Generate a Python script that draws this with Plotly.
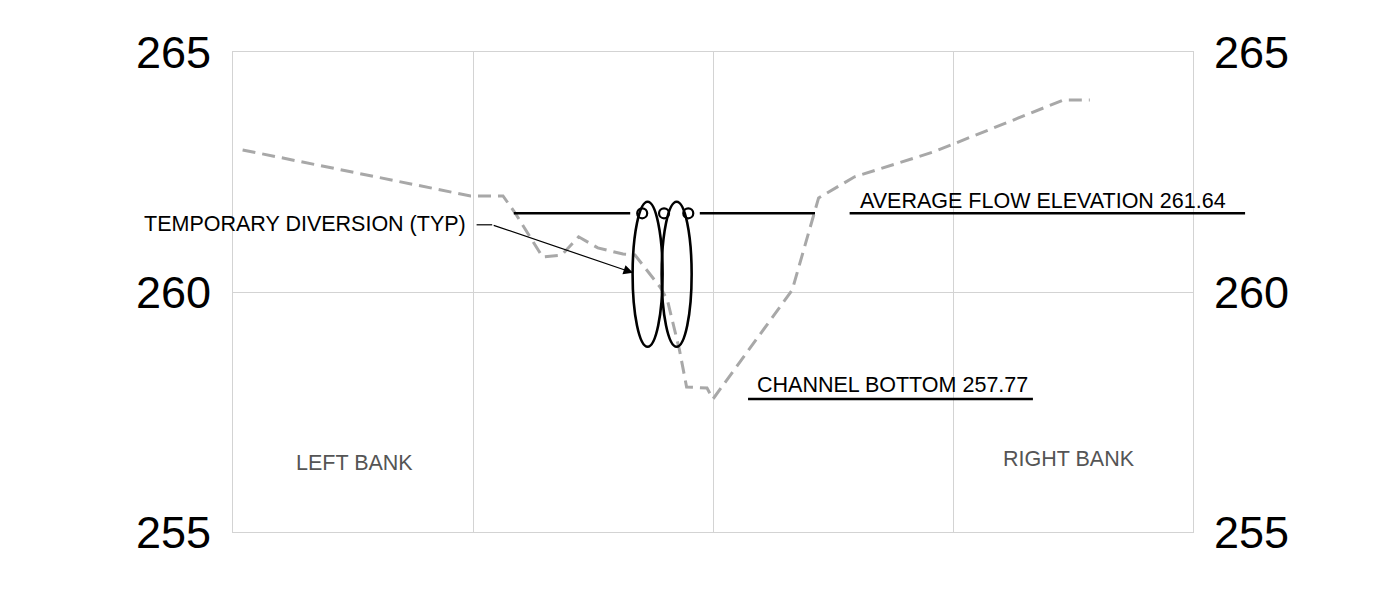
import plotly.graph_objects as go

# cross-section profile (station, elevation)
profile_x = [0.4, 9.9, 11.25, 11.75, 12.9, 13.7, 14.4, 15.2, 16.25, 16.75, 17.8, 18.1,
             18.6, 18.9, 19.75, 20.0, 23.3, 24.4, 25.9, 29.2, 34.6, 35.7]
profile_y = [262.96, 262.0, 262.0, 261.65, 260.73, 260.77, 261.15, 260.92, 260.79, 260.77,
             260.1, 259.83, 258.8, 258.02, 258.0, 257.77, 260.04, 261.96, 262.4, 262.92,
             264.0, 264.0]

flow_elev = 261.64
channel_bottom = 257.77

# water line, broken where the diversion pipes sit
flow_x = [11.7, 16.55, None, 19.45, 24.25]
flow_label_x = [25.63, 42.17]
bottom_label_x = [21.46, 33.33]

# temporary diversion pipes (ellipses) and rings at the top
pipe_x0 = [16.65, 17.86]
pipe_x1 = [17.9, 19.11]
pipe_y0 = 258.86
pipe_y1 = 261.88
ring_x = [17.05, 17.96, 18.97]

y_ticks = [255, 260, 265]
FONT = "Liberation Sans, Arial, sans-serif"

fig = go.Figure()

fig.add_trace(go.Scatter(
    x=profile_x, y=profile_y, mode="lines",
    line=dict(color="#a8a8a8", width=3, dash="13px,7px"),
    hoverinfo="skip"))

fig.add_trace(go.Scatter(
    x=flow_x, y=[flow_elev if v is not None else None for v in flow_x],
    mode="lines", line=dict(color="black", width=2.6), hoverinfo="skip"))

fig.add_trace(go.Scatter(
    x=bottom_label_x, y=[channel_bottom] * 2, yaxis="y2",
    mode="lines", line=dict(color="black", width=2.6), hoverinfo="skip"))

# leader stub from the label
fig.add_trace(go.Scatter(
    x=[10.15, 10.8], y=[261.4, 261.4], mode="lines",
    line=dict(color="black", width=1.2), hoverinfo="skip"))

for x0, x1 in zip(pipe_x0, pipe_x1):
    fig.add_shape(type="circle", xref="x", yref="y", x0=x0, x1=x1, y0=pipe_y0, y1=pipe_y1,
                  line=dict(color="black", width=2.6), layer="above")

fig.add_trace(go.Scatter(
    x=ring_x, y=[flow_elev] * len(ring_x), mode="markers",
    marker=dict(symbol="circle", size=10, color="white", line=dict(color="black", width=2.2)),
    hoverinfo="skip"))

# underline of the flow label, runs past the plot edge
fig.add_annotation(x=flow_label_x[1], y=flow_elev, ax=flow_label_x[0], ay=flow_elev,
                   axref="x", ayref="y", text="", showarrow=True, arrowhead=0,
                   arrowwidth=2.6, arrowcolor="black", standoff=0, startstandoff=0)

# arrow to the diversion pipe
fig.add_annotation(x=16.67, y=260.40, ax=10.8, ay=261.4, axref="x", ayref="y",
                   text="", showarrow=True, arrowhead=2, arrowsize=1.6,
                   arrowwidth=1.2, arrowcolor="black", standoff=0)

labels = [
    (9.8, 261.42, "TEMPORARY DIVERSION (TYP)", "right", "black"),
    (33.77, 261.9, "AVERAGE FLOW ELEVATION 261.64", "center", "black"),
    (27.46, 258.07, "CHANNEL BOTTOM 257.77", "center", "black"),
    (5.06, 256.44, "LEFT BANK", "center", "#555555"),
    (34.83, 256.52, "RIGHT BANK", "center", "#555555"),
]
for lx, ly, txt, anchor, col in labels:
    fig.add_annotation(x=lx, y=ly, text=txt, showarrow=False, xanchor=anchor,
                       yanchor="middle", font=dict(family=FONT, size=21.5, color=col))

grid = "#d3d3d3"
fig.update_layout(
    width=1385, height=600,
    margin=dict(l=225, r=200, t=44, b=76),
    plot_bgcolor="white", paper_bgcolor="white",
    showlegend=False,
    font=dict(family=FONT, color="black"),
    xaxis=dict(range=[0, 40], dtick=10, showticklabels=False, showgrid=True,
               gridcolor=grid, gridwidth=1, zeroline=False,
               showline=True, mirror=True, linecolor=grid, linewidth=1),
    yaxis=dict(range=[255, 265], tickvals=y_ticks, showgrid=True, gridcolor=grid,
               zeroline=False, tickfont=dict(size=45, color="black"),
               ticklabelstandoff=12, showline=True, mirror=True,
               linecolor=grid, linewidth=1),
    yaxis2=dict(range=[255, 265], tickvals=y_ticks, overlaying="y", side="right",
                showgrid=False, zeroline=False, tickfont=dict(size=45, color="black"),
                ticklabelstandoff=20),
)

fig.write_html("out.html")
